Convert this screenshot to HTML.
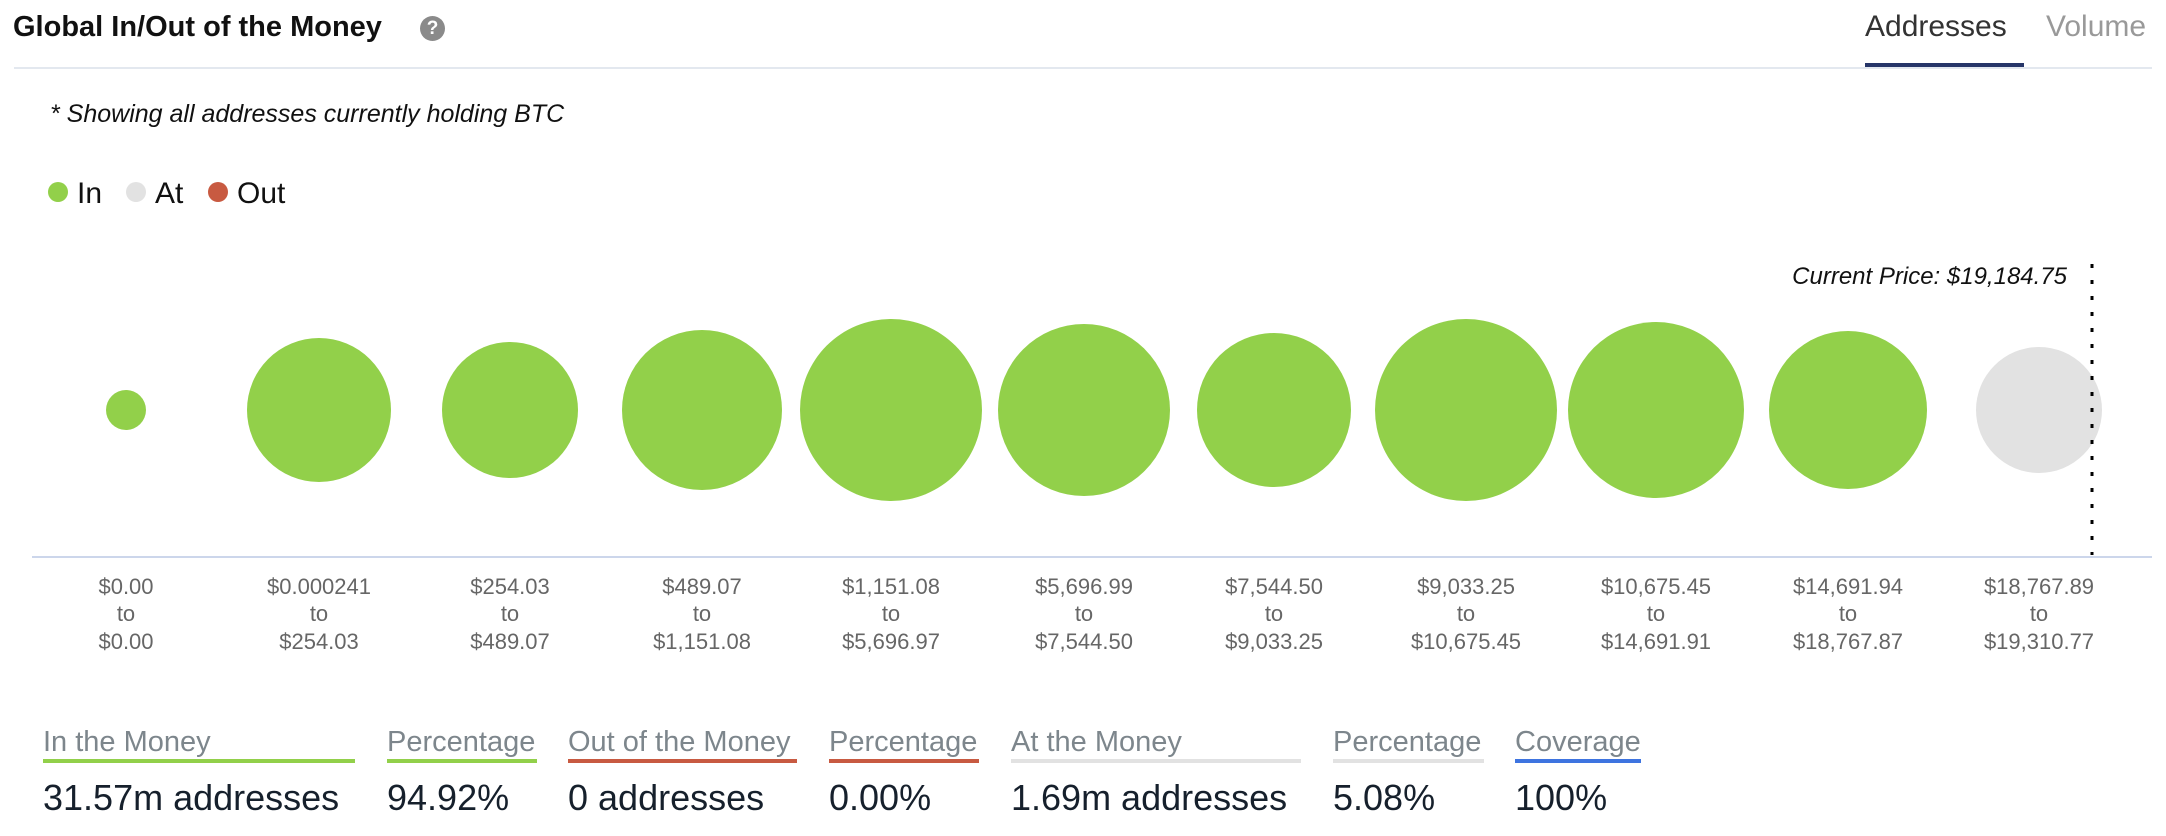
<!DOCTYPE html>
<html><head><meta charset="utf-8"><style>
body{margin:0;width:2166px;height:836px;background:#fff;overflow:hidden;font-family:"Liberation Sans",sans-serif;position:relative}
.a{position:absolute;white-space:nowrap}
.h{font-size:29px;color:#7d868c;top:726px}
.u{position:absolute;top:759px;height:4px}
.v{font-size:36px;color:#16202c;top:777px}
</style></head><body>
<div class="a" style="left:13px;top:11px;font-size:29px;font-weight:bold;color:#111">Global In/Out of the Money</div>
<div class="a" style="left:420px;top:16px;width:25px;height:25px;border-radius:50%;background:#8a8a8a;color:#fff;font-size:19px;font-weight:bold;text-align:center;line-height:25px">?</div>
<div class="a" style="left:1865px;top:10px;font-size:30px;color:#333">Addresses</div>
<div class="a" style="left:2046px;top:10px;font-size:30px;color:#999">Volume</div>
<div class="a" style="left:14px;top:67px;width:2138px;height:2px;background:#e3e8ef"></div>
<div class="a" style="left:1865px;top:63px;width:159px;height:4px;background:#263568"></div>
<div class="a" style="left:50px;top:100px;font-size:25px;font-style:italic;color:#111">* Showing all addresses currently holding BTC</div>
<svg class="a" style="left:0;top:0" width="2166" height="836">
<circle cx="58" cy="192" r="10" fill="#92d04a"/><text x="77" y="203" font-size="30" fill="#111">In</text>
<circle cx="136" cy="192" r="10" fill="#e2e2e2"/><text x="155" y="203" font-size="30" fill="#111">At</text>
<circle cx="218" cy="192" r="10" fill="#c85a41"/><text x="237" y="203" font-size="30" fill="#111">Out</text>
<text x="2067" y="284" font-size="24" font-style="italic" text-anchor="end" fill="#111">Current Price: $19,184.75</text>
<g fill="#92d04a">
<circle cx="126" cy="410" r="20"/><circle cx="319" cy="410" r="72"/><circle cx="510" cy="410" r="68"/>
<circle cx="702" cy="410" r="80"/><circle cx="891" cy="410" r="91"/><circle cx="1084" cy="410" r="86"/>
<circle cx="1274" cy="410" r="77"/><circle cx="1466" cy="410" r="91"/><circle cx="1656" cy="410" r="88"/>
<circle cx="1848" cy="410" r="79"/></g>
<circle cx="2039" cy="410" r="63" fill="#e2e2e2"/>
<line x1="2092" y1="264" x2="2092" y2="555" stroke="#000" stroke-width="3" stroke-dasharray="4,12"/>
<line x1="32" y1="557" x2="2152" y2="557" stroke="#ccd6eb" stroke-width="2"/>
<g font-size="22" fill="#666" text-anchor="middle">
<text x="126" y="594">$0.00</text><text x="126" y="621">to</text><text x="126" y="649">$0.00</text>
<text x="319" y="594">$0.000241</text><text x="319" y="621">to</text><text x="319" y="649">$254.03</text>
<text x="510" y="594">$254.03</text><text x="510" y="621">to</text><text x="510" y="649">$489.07</text>
<text x="702" y="594">$489.07</text><text x="702" y="621">to</text><text x="702" y="649">$1,151.08</text>
<text x="891" y="594">$1,151.08</text><text x="891" y="621">to</text><text x="891" y="649">$5,696.97</text>
<text x="1084" y="594">$5,696.99</text><text x="1084" y="621">to</text><text x="1084" y="649">$7,544.50</text>
<text x="1274" y="594">$7,544.50</text><text x="1274" y="621">to</text><text x="1274" y="649">$9,033.25</text>
<text x="1466" y="594">$9,033.25</text><text x="1466" y="621">to</text><text x="1466" y="649">$10,675.45</text>
<text x="1656" y="594">$10,675.45</text><text x="1656" y="621">to</text><text x="1656" y="649">$14,691.91</text>
<text x="1848" y="594">$14,691.94</text><text x="1848" y="621">to</text><text x="1848" y="649">$18,767.87</text>
<text x="2039" y="594">$18,767.89</text><text x="2039" y="621">to</text><text x="2039" y="649">$19,310.77</text>
</g></svg>
<div class="a h" style="left:43px">In the Money</div><div class="u" style="left:43px;width:312px;background:#92d04a"></div><div class="a v" style="left:43px">31.57m addresses</div>
<div class="a h" style="left:387px">Percentage</div><div class="u" style="left:387px;width:150px;background:#92d04a"></div><div class="a v" style="left:387px">94.92%</div>
<div class="a h" style="left:568px">Out of the Money</div><div class="u" style="left:568px;width:229px;background:#c85a41"></div><div class="a v" style="left:568px">0 addresses</div>
<div class="a h" style="left:829px">Percentage</div><div class="u" style="left:829px;width:150px;background:#c85a41"></div><div class="a v" style="left:829px">0.00%</div>
<div class="a h" style="left:1011px">At the Money</div><div class="u" style="left:1011px;width:290px;background:#e2e2e2"></div><div class="a v" style="left:1011px">1.69m addresses</div>
<div class="a h" style="left:1333px">Percentage</div><div class="u" style="left:1333px;width:151px;background:#e2e2e2"></div><div class="a v" style="left:1333px">5.08%</div>
<div class="a h" style="left:1515px">Coverage</div><div class="u" style="left:1515px;width:126px;background:#3e74e0"></div><div class="a v" style="left:1515px">100%</div>
</body></html>
